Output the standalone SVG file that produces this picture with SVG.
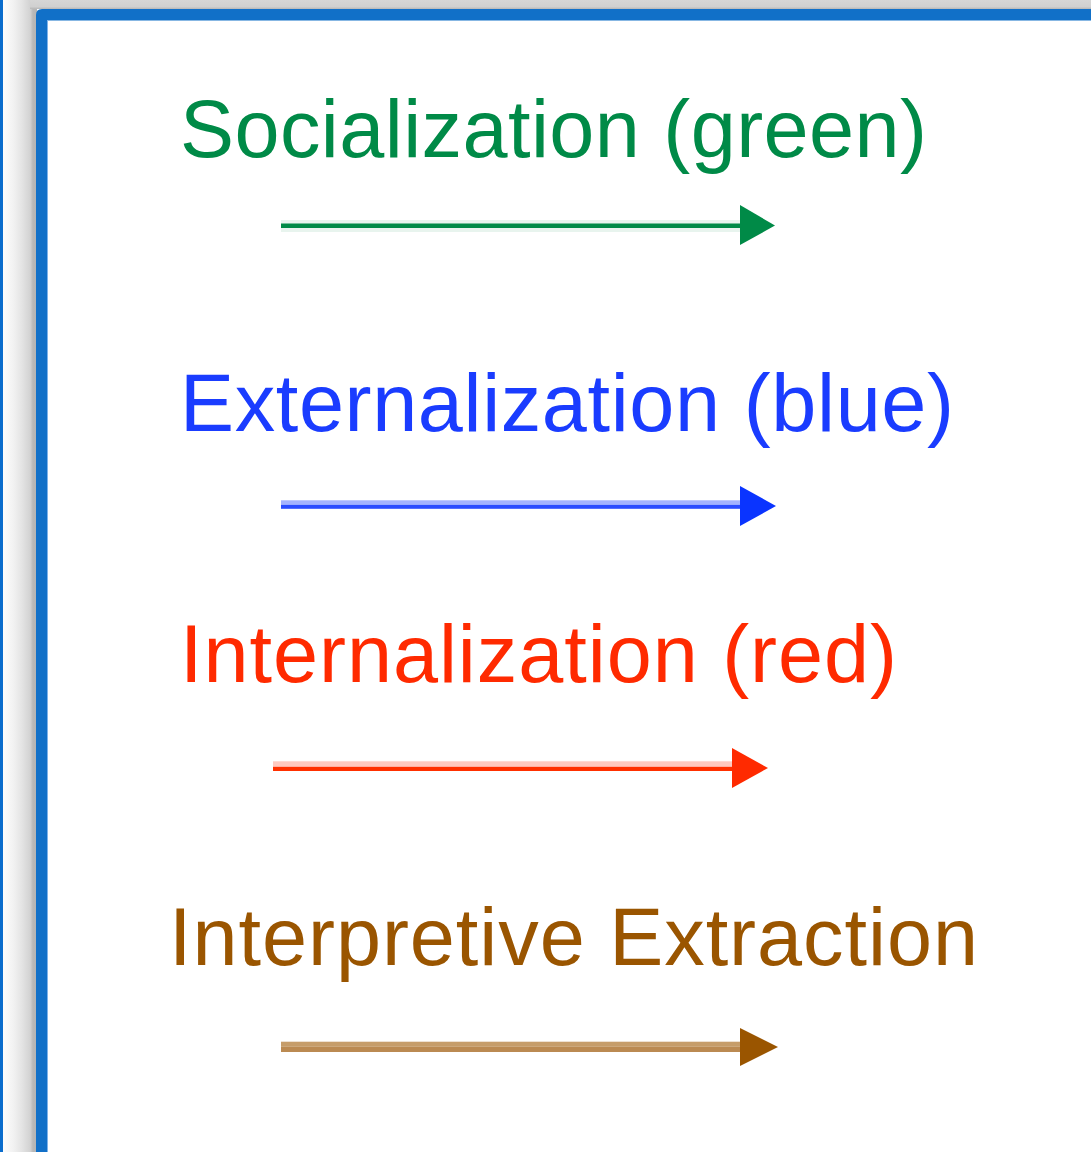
<svg xmlns="http://www.w3.org/2000/svg" width="1091" height="1152" viewBox="0 0 1091 1152">
  <defs>
    <linearGradient id="shadowL" x1="0" y1="0" x2="1" y2="0">
      <stop offset="0" stop-color="#fcfcfc"/>
      <stop offset="0.3" stop-color="#f2f2f2"/>
      <stop offset="0.55" stop-color="#e4e4e4"/>
      <stop offset="0.8" stop-color="#d2d2d2"/>
      <stop offset="0.88" stop-color="#b8b8b8"/>
      <stop offset="1" stop-color="#b4b4b4"/>
    </linearGradient>
    <linearGradient id="shadowT" x1="0" y1="0" x2="0" y2="1">
      <stop offset="0" stop-color="#d6d6d6"/>
      <stop offset="0.75" stop-color="#d0d0d0"/>
      <stop offset="1" stop-color="#b6b6b6"/>
    </linearGradient>
    <style>
      .lbl { font-family: "Liberation Sans", Arial, sans-serif; font-size: 81px; }
    </style>
  </defs>
  <rect x="0" y="0" width="1091" height="1152" fill="#ffffff"/>
  <!-- shadow -->
  <rect x="3" y="0" width="34" height="1152" fill="url(#shadowL)"/>
  <rect x="30" y="0" width="1061" height="9" fill="url(#shadowT)"/>
  <rect x="0" y="0" width="3" height="1152" fill="#0a6ccc"/>
  <!-- legend box border -->
  <g id="legend-box">
    <path d="M36 1152 V15 Q36 9 42 9 H1091 V20.5 H47 V1152 Z" fill="#1170c8"/>
    <rect x="47" y="20.5" width="1" height="1131.5" fill="#7fb3ea"/>
  </g>
  <g id="labels">
    <g id="socialization">
      <text class="lbl" x="180" y="157" fill="#008a47" textLength="747" lengthAdjust="spacing">Socialization (green)</text>
    </g>
    <g id="externalization">
      <text class="lbl" x="180" y="431" fill="#1a3cff" textLength="774" lengthAdjust="spacing">Externalization (blue)</text>
    </g>
    <g id="internalization">
      <text class="lbl" x="180" y="682" fill="#ff2a00" textLength="717" lengthAdjust="spacing">Internalization (red)</text>
    </g>
    <g id="interpretive">
      <text class="lbl" x="169" y="965" fill="#9a5500" textLength="809" lengthAdjust="spacing">Interpretive Extraction</text>
    </g>
  </g>
  <g id="connectors">
    <!-- green -->
    <rect x="281" y="220" width="460" height="12" fill="#e8f4ee"/>
    <rect x="281" y="223.5" width="460" height="4.5" fill="#008a47"/>
    <polygon points="740,205 775,225.5 740,245" fill="#008a47"/>
    <!-- blue -->
    <rect x="281" y="500.3" width="460" height="4.5" fill="#a3b3ff"/>
    <rect x="281" y="504.8" width="460" height="4" fill="#2a4cff"/>
    <polygon points="740,486 776,506 740,526" fill="#0a34ff"/>
    <!-- red -->
    <rect x="273" y="761.3" width="460" height="5.5" fill="#ffc9bf"/>
    <rect x="273" y="766.8" width="460" height="4.2" fill="#ff3000"/>
    <polygon points="732,748 768,768 732,788" fill="#ff2a00"/>
    <!-- brown -->
    <rect x="281" y="1041.7" width="460" height="5.1" fill="#c69d6a"/>
    <rect x="281" y="1046.8" width="460" height="5.2" fill="#bb8a52"/>
    <polygon points="740,1028 778,1047 740,1066" fill="#9a5500"/>
  </g>
</svg>
